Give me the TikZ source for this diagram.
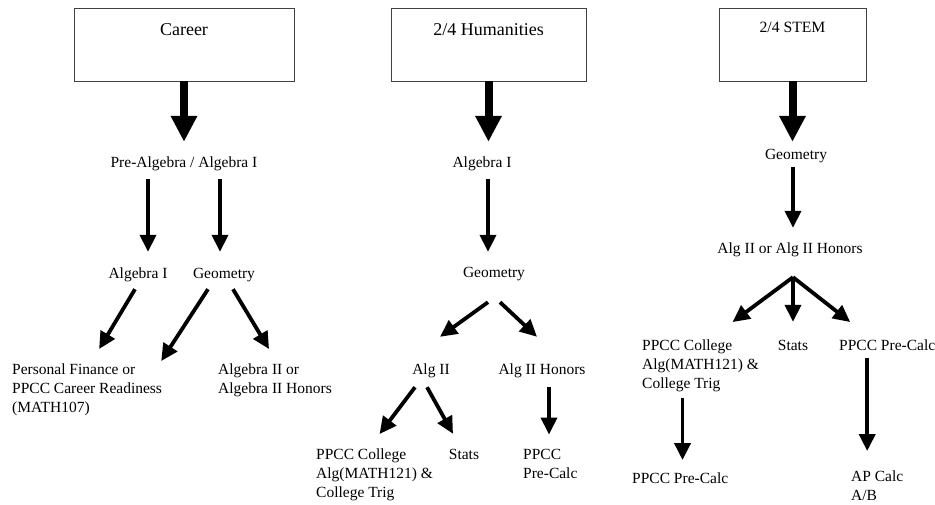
\documentclass[tikz,border=0pt]{standalone}
\usepackage{fontspec}
\setmainfont{Liberation Serif}
\usepackage{tikz}
\usetikzlibrary{arrows.meta, positioning}

\tikzset{
  trackbox/.style = {draw=black!75, line width=0.8pt, anchor=base, inner sep=0pt, font=\fontsize{18}{22}\selectfont},
  course/.style = {anchor=base, inner sep=0pt, text height=11pt, text depth=4pt, font=\fontsize{15.5}{19}\selectfont},
  courselist/.style = {anchor=base west, inner sep=0pt, align=left, font=\fontsize{15.5}{19}\selectfont},
  bigarrow/.style = {line width=8pt, -{Triangle[width=25pt,length=26pt]}},
  smallarrow/.style = {line width=3.8pt, -{Triangle[width=16pt,length=17pt]}}
}

\begin{document}
\begin{tikzpicture}[x=1pt, y=-1pt]
  \useasboundingbox (0,0) rectangle (935,504);

  % Career
  \node[trackbox, minimum width=220pt, text height=27pt, text depth=46pt] (career) at (184,35) {Career};
  \node[course] (prealg) at (184,167) {Pre-Algebra / Algebra I};
  \node[course] (calgI) at (138,278) {Algebra I};
  \node[course] (cgeo) at (224,278) {Geometry};
  \node[courselist] (cfin) at (12,412) {Personal Finance or\\PPCC Career Readiness\\(MATH107)};
  \node[courselist] (calg2) at (218,393) {Algebra II or\\Algebra II Honors};

  \draw[bigarrow] (career.south) -- ([yshift=14pt]prealg.north);
  \draw[smallarrow] ([xshift=-36pt,yshift=-8pt]prealg.south) -- ([xshift=10pt,yshift=15pt]calgI.north);
  \draw[smallarrow] ([xshift=36pt,yshift=-8pt]prealg.south) -- ([xshift=-4pt,yshift=15pt]cgeo.north);
  \draw[smallarrow] ([xshift=-3pt,yshift=-7pt]calgI.south) -- ([xshift=12pt,yshift=14pt]cfin.north);
  \draw[smallarrow] ([xshift=-16pt,yshift=-7pt]cgeo.south) -- ([xshift=-1pt,yshift=2pt]cfin.north east);
  \draw[smallarrow] ([xshift=9pt,yshift=-7pt]cgeo.south) -- ([xshift=-6pt,yshift=14pt]calg2.north);

  % 2/4 Humanities
  \node[trackbox, minimum width=195pt, text height=27pt, text depth=46pt] (hum) at (488.5,35) {2/4 Humanities};
  \node[course] (halgI) at (482,167) {Algebra I};
  \node[course] (hgeo) at (494,277) {Geometry};
  \node[course] (halg2) at (431,374) {Alg II};
  \node[course] (hhon) at (542,374) {Alg II Honors};
  \node[courselist] (hcol) at (316,497) {PPCC College\\Alg(MATH121) \&\\College Trig};
  \node[course] (hstats) at (464,459) {Stats};
  \node[courselist] (hpre) at (523,478) {PPCC\\Pre-Calc};

  \draw[bigarrow] (hum.south) -- ([yshift=14pt]hum.south |- halgI.north);
  \draw[smallarrow] ([xshift=6pt,yshift=-8pt]halgI.south) -- ([xshift=-6pt,yshift=14pt]hgeo.north);
  \draw[smallarrow] ([xshift=-6pt,yshift=-21pt]hgeo.south) -- ([xshift=9pt,yshift=26pt]halg2.north);
  \draw[smallarrow] ([xshift=6pt,yshift=-21pt]hgeo.south) -- ([xshift=-5pt,yshift=26pt]hhon.north);
  \draw[smallarrow] ([xshift=-16pt,yshift=-9pt]halg2.south) -- ([xshift=5pt,yshift=14pt]hcol.north);
  \draw[smallarrow] ([xshift=-4pt,yshift=-9pt]halg2.south) -- ([xshift=-11pt,yshift=14pt]hstats.north);
  \draw[smallarrow] ([xshift=7pt,yshift=-9pt]hhon.south) -- ([xshift=7pt,yshift=14pt]hhon.south |- hpre.north);

  % 2/4 STEM
  \node[trackbox, minimum width=147pt, text height=24pt, text depth=49pt, font=\fontsize{15.7}{19}\selectfont] (stem) at (792.5,32) {2/4 STEM};
  \node[course] (sgeo) at (796,159) {Geometry};
  \node[course] (salg) at (790,253) {Alg II or Alg II Honors};
  \node[courselist] (scol) at (642,388) {PPCC College\\Alg(MATH121) \&\\College Trig};
  \node[course] (sstats) at (793,350) {Stats};
  \node[courselist] (spre) at (839,350) {PPCC Pre-Calc};
  \node[courselist] (spre2) at (632,483) {PPCC Pre-Calc};
  \node[courselist] (sap) at (851,500) {AP Calc\\A/B};

  \draw[bigarrow] (stem.south) -- ([yshift=6pt]stem.south |- sgeo.north);
  \draw[smallarrow] ([xshift=-3pt,yshift=-4pt]sgeo.south) -- ([xshift=3pt,yshift=14pt]salg.north);
  \draw[smallarrow] ([xshift=3pt,yshift=-20pt]salg.south) -- ([xshift=32pt,yshift=17pt]scol.north);
  \draw[smallarrow] ([xshift=3pt,yshift=-20pt]salg.south) -- ([yshift=17pt]sstats.north);
  \draw[smallarrow] ([xshift=3pt,yshift=-20pt]salg.south) -- ([xshift=-37pt,yshift=17pt]spre.north);
  \draw[smallarrow] ([xshift=-18pt,yshift=-6pt]scol.south) -- ([xshift=-18pt,yshift=12pt]scol.south |- spre2.north);
  \draw[smallarrow] ([xshift=-20pt,yshift=-8pt]spre.south) -- ([xshift=-20pt,yshift=19pt]spre.south |- sap.north);
\end{tikzpicture}
\end{document}
